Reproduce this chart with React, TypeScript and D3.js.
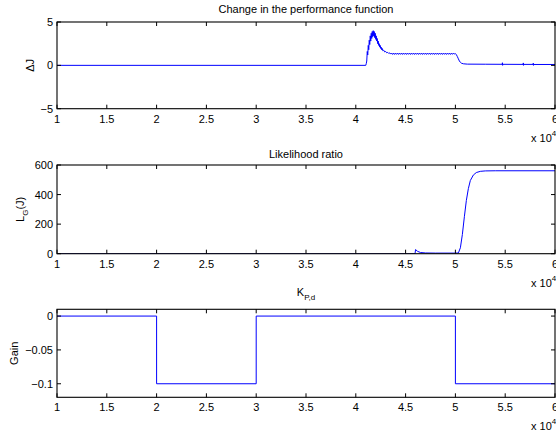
import React from "react";
import * as d3 from "d3";

const W = 556;
const H = 434;

// Time axis (in units of 10^4)
const X_DOMAIN: [number, number] = [1, 6];
const X_TICKS = [1, 1.5, 2, 2.5, 3, 3.5, 4, 4.5, 5, 5.5, 6];

// Change in the performance function, ΔJ
const DELTA_J: [number, number][] = [
  [1.0, 0], [4.1, 0], [4.105, 0.2], [4.11, 0.5], [4.115, 1.6], [4.12, 1.2], [4.125, 2.3],
  [4.13, 1.8], [4.135, 2.9], [4.14, 2.4], [4.145, 3.4], [4.15, 2.8], [4.155, 3.7], [4.16, 3.1],
  [4.165, 3.9], [4.17, 3.3], [4.175, 4.0], [4.18, 3.4], [4.185, 3.9], [4.19, 3.2], [4.195, 3.7],
  [4.2, 3.0], [4.205, 3.4], [4.21, 2.8], [4.215, 3.1], [4.22, 2.5], [4.225, 2.8], [4.23, 2.3],
  [4.235, 2.5], [4.24, 2.1], [4.245, 2.3], [4.25, 1.95], [4.255, 2.1], [4.26, 1.8], [4.265, 1.95],
  [4.27, 1.7], [4.28, 1.75], [4.29, 1.55], [4.3, 1.6], [4.31, 1.45], [4.32, 1.5], [4.33, 1.38],
  [4.34, 1.44], [4.35, 1.3], [4.36, 1.42], [4.37, 1.26], [4.38, 1.42], [4.39, 1.26], [4.4, 1.41],
  [4.41, 1.27], [4.42, 1.42], [4.43, 1.26], [4.44, 1.41], [4.45, 1.27], [4.46, 1.42], [4.47, 1.26],
  [4.48, 1.41], [4.49, 1.27], [4.5, 1.42], [4.51, 1.26], [4.52, 1.41], [4.53, 1.27], [4.54, 1.42],
  [4.55, 1.26], [4.56, 1.41], [4.57, 1.27], [4.58, 1.42], [4.59, 1.26], [4.6, 1.41], [4.61, 1.27],
  [4.62, 1.42], [4.63, 1.26], [4.64, 1.41], [4.65, 1.27], [4.66, 1.42], [4.67, 1.26], [4.68, 1.41],
  [4.69, 1.27], [4.7, 1.42], [4.71, 1.26], [4.72, 1.41], [4.73, 1.27], [4.74, 1.42], [4.75, 1.26],
  [4.76, 1.41], [4.77, 1.27], [4.78, 1.42], [4.79, 1.26], [4.8, 1.41], [4.81, 1.27], [4.82, 1.42],
  [4.83, 1.26], [4.84, 1.41], [4.85, 1.27], [4.86, 1.42], [4.87, 1.26], [4.88, 1.41], [4.89, 1.27],
  [4.9, 1.42], [4.91, 1.26], [4.92, 1.41], [4.93, 1.27], [4.94, 1.42], [4.95, 1.26], [4.96, 1.41],
  [4.97, 1.27], [4.98, 1.42], [4.99, 1.3], [5.0, 1.36], [5.01, 1.22], [5.02, 1.0], [5.03, 0.75],
  [5.04, 0.5], [5.05, 0.35], [5.06, 0.25], [5.08, 0.18], [5.12, 0.14], [5.3, 0.13], [5.47, 0.12],
  [5.472, 0.3], [5.474, 0.0], [5.476, 0.12], [5.68, 0.11], [5.682, 0.28], [5.684, 0.0],
  [5.686, 0.11], [5.78, 0.11], [5.782, 0.25], [5.784, 0.0], [5.786, 0.1], [6.0, 0.1],
];

// Likelihood ratio, L_G(J)
const LIKELIHOOD: [number, number][] = [
  [1.0, 0], [4.595, 0], [4.6, 28], [4.62, 16], [4.65, 8], [4.7, 5], [4.8, 4], [5.0, 4],
  [5.03, 5], [5.05, 40], [5.07, 130], [5.09, 250], [5.11, 360], [5.13, 440], [5.15, 495],
  [5.18, 532], [5.21, 549], [5.25, 557], [5.3, 560], [5.4, 561], [6.0, 561],
];

// Gain K_{P,d} (piecewise constant)
const GAIN: [number, number][] = [
  [1, 0], [2, -0.1], [3, 0], [5, -0.1], [6, -0.1],
];

const LEFT = 57;
const RIGHT = 555;
const FONT = "'Liberation Sans', Arial, Helvetica, sans-serif";
const LINE_COLOR = "#0000ff";

const fmt = (v: number) => (v < 0 ? "\u2212" + String(-v) : String(v));

type PanelProps = {
  top: number;
  bottom: number;
  yDomain: [number, number];
  yTicks: number[];
  data: [number, number][];
  step?: boolean;
  title: React.ReactNode;
  titleY: number;
  yLabel: React.ReactNode;
  yLabelX: number;
};

function Panel({ top, bottom, yDomain, yTicks, data, step, title, titleY, yLabel, yLabelX }: PanelProps) {
  const x = d3.scaleLinear().domain(X_DOMAIN).range([LEFT, RIGHT]);
  const y = d3.scaleLinear().domain(yDomain).range([bottom, top]);
  const line = d3
    .line<[number, number]>()
    .x((d) => x(d[0]))
    .y((d) => y(d[1]))
    .curve(step ? d3.curveStepAfter : d3.curveLinear);
  const tl = 4;
  const midY = (top + bottom) / 2;
  return (
    <g>
      <defs>
        <clipPath id={`clip-${top}`}>
          <rect x={LEFT} y={top} width={RIGHT - LEFT} height={bottom - top} />
        </clipPath>
      </defs>
      <path
        d={line(data) ?? ""}
        fill="none"
        stroke={LINE_COLOR}
        strokeWidth={1}
        clipPath={`url(#clip-${top})`}
      />
      {/* Axes box */}
      <rect x={LEFT} y={top} width={RIGHT - LEFT} height={bottom - top} fill="none" stroke="#000" strokeWidth={1.1} />
      {X_TICKS.map((t) => (
        <g key={`x${t}`}>
          <line x1={x(t)} x2={x(t)} y1={bottom} y2={bottom - tl} stroke="#000" strokeWidth={1} />
          <line x1={x(t)} x2={x(t)} y1={top} y2={top + tl} stroke="#000" strokeWidth={1} />
          <text x={x(t)} y={bottom + 14} textAnchor="middle" fontSize={11} fontFamily={FONT}>
            {t}
          </text>
        </g>
      ))}
      {yTicks.map((t) => (
        <g key={`y${t}`}>
          <line x1={LEFT} x2={LEFT + tl} y1={y(t)} y2={y(t)} stroke="#000" strokeWidth={1} />
          <line x1={RIGHT} x2={RIGHT - tl} y1={y(t)} y2={y(t)} stroke="#000" strokeWidth={1} />
          <text x={LEFT - 4} y={y(t) + 4} textAnchor="end" fontSize={11} fontFamily={FONT}>
            {fmt(t)}
          </text>
        </g>
      ))}
      <text x={531} y={bottom + 33} fontSize={11} fontFamily={FONT}>
        x 10
        <tspan dy={-6} fontSize={8}>4</tspan>
      </text>
      <text x={(LEFT + RIGHT) / 2} y={titleY} textAnchor="middle" fontSize={11} fontFamily={FONT}>
        {title}
      </text>
      <text
        transform={`translate(${yLabelX},${midY}) rotate(-90)`}
        textAnchor="middle"
        fontSize={11}
        fontFamily={FONT}
      >
        {yLabel}
      </text>
    </g>
  );
}

export default function App() {
  return (
    <svg
      width={W}
      height={H}
      style={{ position: "absolute", left: 0, top: 0, background: "#fff", display: "block" }}
    >
      <rect width={W} height={H} fill="#fff" />
      <Panel
        top={22}
        bottom={108.7}
        yDomain={[-5, 5]}
        yTicks={[-5, 0, 5]}
        data={DELTA_J}
        title="Change in the performance function"
        titleY={13}
        yLabel={"\u0394J"}
        yLabelX={34}
      />
      <Panel
        top={165}
        bottom={253.7}
        yDomain={[0, 600]}
        yTicks={[0, 200, 400, 600]}
        data={LIKELIHOOD}
        title="Likelihood ratio"
        titleY={158}
        yLabel={
          <>
            L<tspan dy={4} fontSize={8}>G</tspan>
            <tspan dy={-4}>(J)</tspan>
          </>
        }
        yLabelX={24}
      />
      <Panel
        top={309.3}
        bottom={397.3}
        yDomain={[-0.12, 0.01]}
        yTicks={[-0.1, -0.05, 0]}
        data={GAIN}
        step
        title={
          <>
            K<tspan dy={4} fontSize={8}>P,d</tspan>
          </>
        }
        titleY={296}
        yLabel="Gain"
        yLabelX={18}
      />
    </svg>
  );
}
